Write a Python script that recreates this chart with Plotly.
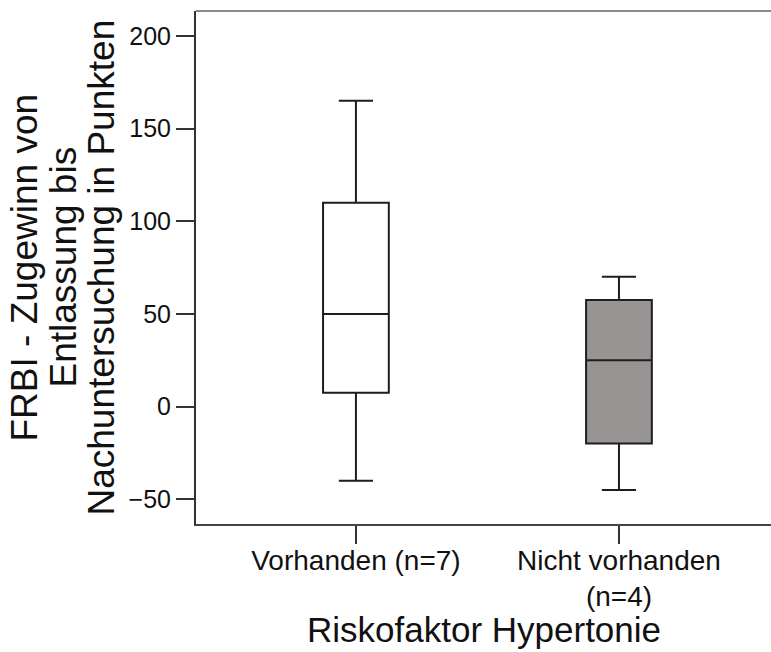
import plotly.graph_objects as go

# Gruppen und Kennwerte der Boxplots (FRBI-Zugewinn in Punkten)
categories = ["Vorhanden (n=7)", "Nicht vorhanden<br>(n=4)"]
positions = [0, 1]
lower_whisker = [-40, -45]
q1_values = [7.5, -20]
median_values = [50, 25]
q3_values = [110, 57.5]
upper_whisker = [165, 70]
fill_colors = ["#ffffff", "#979493"]

y_ticks = [-50, 0, 50, 100, 150, 200]

y_title_lines = ["FRBI - Zugewinn von", "Entlassung bis", "Nachuntersuchung in Punkten"]
x_title = "Riskofaktor Hypertonie"

FONT = "Arial, 'Liberation Sans', sans-serif"

fig = go.Figure()
for i, pos in enumerate(positions):
    fig.add_trace(go.Box(
        x=[pos],
        q1=[q1_values[i]],
        median=[median_values[i]],
        q3=[q3_values[i]],
        lowerfence=[lower_whisker[i]],
        upperfence=[upper_whisker[i]],
        width=0.25,
        whiskerwidth=0.52,
        fillcolor=fill_colors[i],
        line=dict(color="#1e1e1e", width=2),
        boxpoints=False,
        showlegend=False,
        hoverinfo="skip",
    ))

# mehrzeiliger Y-Titel: eine Annotation je Zeile für engeren Zeilenabstand
title_x = [-0.2974, -0.2313, -0.1652]
annotations = [
    dict(
        text=line,
        xref="paper", yref="paper", x=title_x[k], y=0.5,
        xanchor="center", yanchor="middle",
        textangle=-90, showarrow=False,
        font=dict(size=37, family=FONT, color="#111111"),
    )
    for k, line in enumerate(y_title_lines)
]
annotations.append(dict(
    text=x_title,
    xref="paper", yref="paper", x=0.5, y=-0.247,
    xanchor="center", yanchor="bottom",
    showarrow=False,
    font=dict(size=35, family=FONT, color="#111111"),
))

fig.update_layout(
    width=771,
    height=652,
    margin=dict(l=196, r=0, t=11, b=128),
    paper_bgcolor="white",
    plot_bgcolor="white",
    font=dict(family=FONT, color="#111111"),
    xaxis=dict(
        range=[-0.608, 1.578],
        tickvals=positions,
        ticktext=categories,
        tickfont=dict(size=28, family=FONT, color="#111111"),
        ticks="outside",
        ticklen=18,
        tickwidth=1.5,
        tickcolor="#333333",
        ticklabelstandoff=-8,
        showline=True,
        linecolor="#444444",
        linewidth=2,
        showgrid=False,
        zeroline=False,
    ),
    yaxis=dict(
        range=[-63.4, 213.5],
        tickvals=y_ticks,
        tickfont=dict(size=25, family=FONT, color="#111111"),
        ticks="outside",
        ticklen=18,
        tickwidth=1.5,
        tickcolor="#333333",
        showline=True,
        linecolor="#333333",
        linewidth=2,
        showgrid=False,
        zeroline=False,
    ),
    shapes=[
        dict(type="line", xref="paper", yref="paper", x0=0, x1=1, y0=1, y1=1,
             line=dict(color="#8a8a8a", width=2)),
    ],
    annotations=annotations,
)

fig.write_html("out.html")
